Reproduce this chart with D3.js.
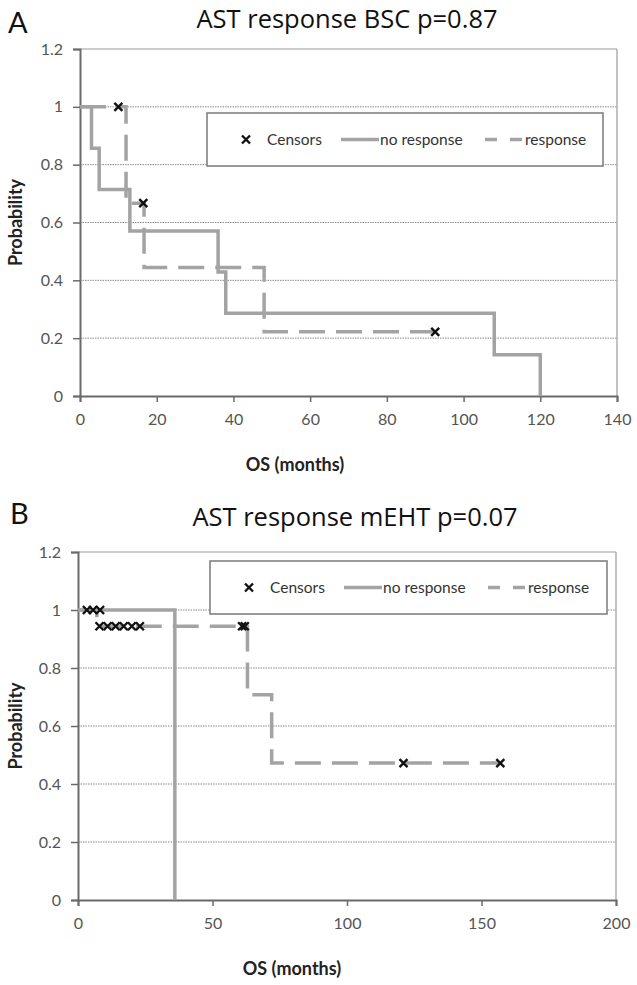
<!DOCTYPE html>
<html>
<head>
<meta charset="utf-8">
<script src="https://cdn.jsdelivr.net/npm/d3@7"></script>
<style>
  html, body { margin: 0; padding: 0; background: #fff; }
  svg { display: block; font-family: Lato, "Open Sans", sans-serif; }
</style>
</head>
<body>
<svg id="chart" width="637" height="985"></svg>
<script>
// ---------- DATA ----------
// Panel A: AST response BSC
const aTitle = "AST response BSC p=0.87";
const aXTicks = [0, 20, 40, 60, 80, 100, 120, 140];
const aNoRespTime = [0, 3, 5, 13, 36, 38, 108, 120];
const aNoRespSurv = [1, 0.857, 0.714, 0.571, 0.429, 0.286, 0.143, 0];
const aRespTime = [0, 12, 16.7, 48, 92.6];
const aRespSurv = [1, 0.667, 0.444, 0.222, 0.222];
const aCensorTime = [10, 16.5, 92.6];
const aCensorSurv = [1, 0.667, 0.222];

// Panel B: AST response mEHT
const bTitle = "AST response mEHT p=0.07";
const bXTicks = [0, 50, 100, 150, 200];
const bNoRespTime = [0, 36];
const bNoRespSurv = [1, 0];
const bRespTime = [0, 7, 63, 72, 157];
const bRespSurv = [1, 0.944, 0.708, 0.472, 0.472];
const bCensorTime = [3.3, 5.6, 8.2, 8, 11, 14, 17, 20, 23, 61, 62, 121, 157];
const bCensorSurv = [1, 1, 1, 0.944, 0.944, 0.944, 0.944, 0.944, 0.944, 0.944, 0.944, 0.472, 0.472];

const yTicks = [0, 0.2, 0.4, 0.6, 0.8, 1, 1.2];
const yTickLabels = ["0", "0.2", "0.4", "0.6", "0.8", "1", "1.2"];
const legendLabels = ["Censors", "no response", "response"];
const xAxisTitle = "OS (months)";
const yAxisTitle = "Probability";

// ---------- DRAW ----------
const svg = d3.select("#chart");
const lineColor = "#a3a3a3";

function panel(cfg) {
  const g = svg.append("g");
  const x = d3.scaleLinear().domain(cfg.xDomain).range([cfg.left, cfg.right]);
  const y = d3.scaleLinear().domain([0, 1.2]).range([cfg.bottom, cfg.top]);

  // panel letter + title
  g.append("text").attr("x", cfg.letterX).attr("y", cfg.letterY)
    .attr("font-size", 29).attr("fill", "#111").text(cfg.letter);
  g.append("text").attr("x", cfg.titleX).attr("y", cfg.titleY)
    .attr("text-anchor", "middle").attr("font-size", 25.5).attr("fill", "#111")
    .attr("font-family", "'Open Sans', sans-serif")
    .text(cfg.title);

  // gridlines (dotted)
  g.append("g").selectAll("line").data(yTicks.filter(d => d > 0 && d < 1.2)).join("line")
    .attr("x1", cfg.left).attr("x2", cfg.right)
    .attr("y1", d => y(d)).attr("y2", d => y(d))
    .attr("stroke", "#8a8a8a").attr("stroke-width", 1).attr("stroke-dasharray", "1.5,1");

  // top and right border
  g.append("line").attr("x1", cfg.left).attr("x2", cfg.right)
    .attr("y1", y(1.2)).attr("y2", y(1.2)).attr("stroke", "#9a9a9a").attr("stroke-width", 1.2);
  g.append("line").attr("x1", cfg.right).attr("x2", cfg.right)
    .attr("y1", y(1.2)).attr("y2", y(0)).attr("stroke", "#9a9a9a").attr("stroke-width", 1.2);

  // axes
  const yAxis = d3.axisLeft(y).tickValues(yTicks)
    .tickFormat((d, i) => yTickLabels[i]).tickSize(7).tickPadding(10);
  const ya = g.append("g").attr("transform", `translate(${cfg.left},0)`).call(yAxis);
  const xAxis = d3.axisBottom(x).tickValues(cfg.xTicks).tickFormat(d3.format("d"))
    .tickSize(6).tickPadding(12);
  const xa = g.append("g").attr("transform", `translate(0,${cfg.bottom})`).call(xAxis);
  [ya, xa].forEach(a => {
    a.select(".domain").attr("stroke", "#6a6a6a").attr("stroke-width", 2);
    a.selectAll(".tick line").attr("stroke", "#6a6a6a").attr("stroke-width", 1.5);
    a.selectAll(".tick text").attr("fill", "#555").attr("font-size", 16)
      .attr("font-family", "Lato, sans-serif");
  });

  // axis titles
  g.append("text").attr("x", cfg.xTitleX).attr("y", cfg.xTitleY)
    .attr("text-anchor", "middle").attr("font-size", 18).attr("font-weight", "bold")
    .attr("fill", "#222").text(xAxisTitle);
  g.append("text")
    .attr("transform", `translate(${cfg.yTitleX},${(y(0) + y(1.2)) / 2}) rotate(-90)`)
    .attr("text-anchor", "middle").attr("font-size", 18).attr("font-weight", "bold")
    .attr("fill", "#222").text(yAxisTitle);

  // curves
  const line = d3.line().x(d => x(d[0])).y(d => y(d[1])).curve(d3.curveStepAfter);
  g.append("path").datum(d3.zip(cfg.noTime, cfg.noSurv)).attr("d", line)
    .attr("fill", "none").attr("stroke", lineColor).attr("stroke-width", 3.5);
  g.append("path").datum(d3.zip(cfg.rTime, cfg.rSurv)).attr("d", line)
    .attr("fill", "none").attr("stroke", lineColor).attr("stroke-width", 3.5)
    .attr("stroke-dasharray", "26,11");

  // censor marks
  const crossPath = "M-4,-4L4,4M-4,4L4,-4";
  g.append("g").selectAll("path").data(d3.zip(cfg.cTime, cfg.cSurv)).join("path")
    .attr("transform", d => `translate(${x(d[0])},${y(d[1])})`)
    .attr("d", crossPath).attr("stroke", "#111").attr("stroke-width", 2.4).attr("fill", "none");

  // legend
  const L = cfg.legend;
  const lg = g.append("g").attr("transform", `translate(${L.x},${L.y})`);
  lg.append("rect").attr("width", L.w).attr("height", L.h)
    .attr("fill", "#fff").attr("stroke", "#7a7a7a").attr("stroke-width", 1.5);
  const cy = L.h / 2;
  lg.append("path").attr("transform", `translate(39,${cy})`).attr("d", crossPath)
    .attr("stroke", "#111").attr("stroke-width", 2.4).attr("fill", "none");
  lg.append("line").attr("x1", 134).attr("x2", 172).attr("y1", cy).attr("y2", cy)
    .attr("stroke", lineColor).attr("stroke-width", 3.5);
  lg.append("line").attr("x1", 278).attr("x2", 316).attr("y1", cy).attr("y2", cy)
    .attr("stroke", lineColor).attr("stroke-width", 3.5).attr("stroke-dasharray", "12,13");
  const tx = [60, 173, 318];
  lg.selectAll("text.leg").data(legendLabels).join("text").attr("class", "leg")
    .attr("x", (d, i) => tx[i]).attr("y", cy).attr("dy", "0.35em")
    .attr("font-size", 15.5).attr("fill", "#333").text(d => d);
}

panel({
  letter: "A", letterX: 8, letterY: 33, title: aTitle, titleX: 347, titleY: 27.5,
  left: 80, right: 617, top: 49, bottom: 396, xDomain: [0, 140], xTicks: aXTicks,
  xTitleX: 295, xTitleY: 471, yTitleX: 22,
  noTime: aNoRespTime, noSurv: aNoRespSurv, rTime: aRespTime, rSurv: aRespSurv,
  cTime: aCensorTime, cSurv: aCensorSurv,
  legend: { x: 207, y: 113, w: 396, h: 53 }
});
panel({
  letter: "B", letterX: 10, letterY: 524, title: bTitle, titleX: 355, titleY: 526,
  left: 78, right: 616, top: 552, bottom: 900, xDomain: [0, 200], xTicks: bXTicks,
  xTitleX: 292, xTitleY: 975, yTitleX: 22,
  noTime: bNoRespTime, noSurv: bNoRespSurv, rTime: bRespTime, rSurv: bRespSurv,
  cTime: bCensorTime, cSurv: bCensorSurv,
  legend: { x: 210, y: 561, w: 397, h: 53 }
});
</script>
</body>
</html>
